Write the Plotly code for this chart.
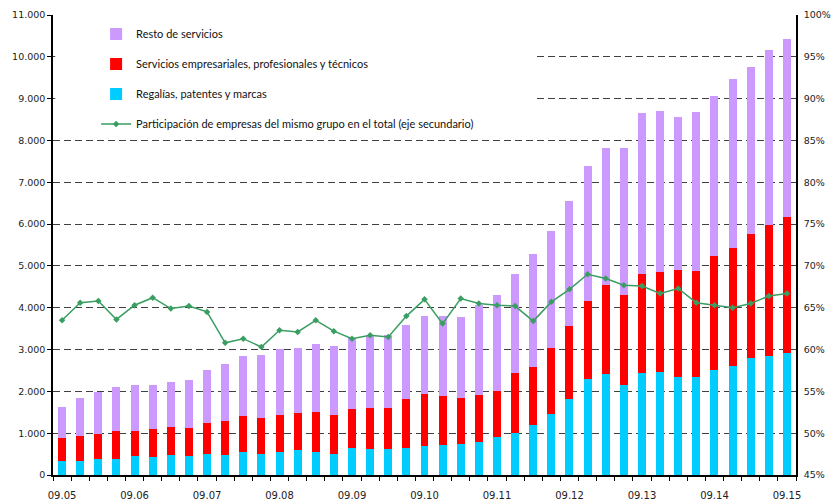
import plotly.graph_objects as go

# Quarter labels 09.05 ... 09.15
categories = []
for yy in range(5, 16):
    for mm in ["03", "06", "09", "12"]:
        if (yy == 5 and mm in ("03", "06")) or (yy == 15 and mm == "12"):
            continue
        categories.append(f"{mm}.{yy:02d}")

regalias = [341, 341, 389, 389, 460, 437, 484, 460, 508, 484, 556, 508, 556, 603,
            560, 509, 636, 613, 613, 636, 684, 708, 732, 780, 899, 994, 1185, 1465,
            1814, 2291, 2411, 2148, 2434, 2458, 2339, 2339, 2506, 2601, 2792, 2840, 2912]
servicios_emp = [548, 596, 595, 667, 596, 666, 667, 667, 738, 810, 857, 857, 881, 881,
                 950, 931, 947, 994, 994, 1186, 1257, 1185, 1114, 1137, 1114, 1448, 1401,
                 1570, 1750, 1862, 2124, 2148, 2363, 2387, 2554, 2530, 2721, 2817, 2960,
                 3127, 3269]
resto = [738, 904, 1000, 1047, 1095, 1048, 1071, 1143, 1262, 1357, 1428, 1500, 1571, 1548,
         1620, 1647, 1687, 1726, 1742, 1766, 1862, 1910, 1933, 2148, 2291, 2363, 2696,
         2792, 2999, 3246, 3293, 3532, 3866, 3866, 3675, 3818, 3842, 4057, 4009, 4200, 4249]
participacion = [63.5, 65.6, 65.8, 63.6, 65.3, 66.2, 64.9, 65.2, 64.5, 60.8, 61.3, 60.3,
                 62.3, 62.1, 63.5, 62.2, 61.3, 61.7, 61.5, 64.0, 66.0, 63.1, 66.1, 65.5,
                 65.3, 65.2, 63.4, 65.7, 67.2, 69.0, 68.5, 67.7, 67.6, 66.7, 67.3, 65.6,
                 65.3, 65.0, 65.5, 66.4, 66.7]

x_idx = list(range(len(categories)))
label_idx = [i for i, c in enumerate(categories) if c.startswith("09.")]
label_txt = [categories[i] for i in label_idx]

fig = go.Figure()
fig.add_trace(go.Bar(x=x_idx, y=regalias, name="Regalías, patentes y marcas",
                     marker=dict(color="#00CCFF", line=dict(width=0)),
                     legendgroup="c", legendrank=3))
fig.add_trace(go.Bar(x=x_idx, y=servicios_emp,
                     name="Servicios empresariales, profesionales y técnicos",
                     marker=dict(color="#FF0000", line=dict(width=0)),
                     legendgroup="b", legendrank=2))
fig.add_trace(go.Bar(x=x_idx, y=resto, name="Resto de servicios",
                     marker=dict(color="#CC99FF", line=dict(width=0)),
                     legendgroup="a", legendrank=1))
fig.add_trace(go.Scatter(x=x_idx, y=participacion, yaxis="y2", mode="lines+markers",
                         name="Participación de empresas del mismo grupo en el total (eje secundario)",
                         line=dict(color="#3A9E62", width=1.5),
                         marker=dict(symbol="diamond", size=5, color="#3A9E62"),
                         legendgroup="d", legendrank=4))

ytick_font = dict(family="DejaVu Sans", size=9.5, color="#222222")
xtick_font = dict(family="DejaVu Sans", size=10, color="#222222")

fig.update_layout(
    width=833, height=503,
    margin=dict(l=53, r=37, t=15, b=28, autoexpand=False),
    paper_bgcolor="white", plot_bgcolor="white",
    barmode="stack", bargap=0.56,
    separators=",.",
    showlegend=True,
    legend=dict(x=0.058, y=0.99, xanchor="left", yanchor="top",
                bgcolor="rgba(0,0,0,0)", traceorder="grouped", tracegroupgap=11,
                font=dict(family="Lato", size=11, color="#111111"),
                itemwidth=30),
    xaxis=dict(range=[-0.5, len(categories) - 0.5], tickmode="array",
               tickvals=label_idx, ticktext=label_txt, ticks="", ticklabelstandoff=10,
               showgrid=False, zeroline=False, showline=True, linecolor="black",
               linewidth=1.5, tickfont=xtick_font, automargin=False,
               minor=dict(ticks="outside", ticklen=4, tickcolor="black", tickwidth=1,
                          tickmode="linear", tick0=0.5, dtick=1, showgrid=False)),
    yaxis=dict(range=[0, 11000], dtick=1000, tickformat=",.0f",
               showgrid=True, gridcolor="#404040", gridwidth=1, griddash="7px,4px",
               zeroline=False, showline=True, linecolor="black", linewidth=1.5,
               ticks="outside", ticklen=4, tickcolor="black", tickfont=ytick_font,
               automargin=False),
    yaxis2=dict(range=[45, 100], dtick=5, ticksuffix="%", overlaying="y", side="right",
                showgrid=False, zeroline=False, showline=True, linecolor="black",
                linewidth=1.5, ticks="", tickfont=ytick_font, ticklabelstandoff=4,
                automargin=False),
    shapes=[dict(type="rect", xref="paper", yref="paper", x0=0.003, x1=0.649,
                 y0=0.75, y1=0.99, fillcolor="white", line=dict(width=0),
                 layer="above")],
)

fig.write_html("out.html", config={"displayModeBar": False},
               post_script="document.body.style.margin='0';document.body.style.overflow='hidden';")
